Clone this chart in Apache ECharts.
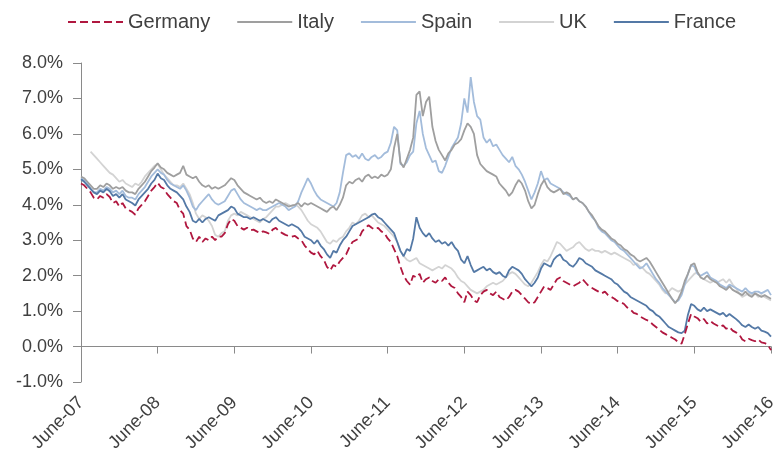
<!DOCTYPE html>
<html>
<head>
<meta charset="utf-8">
<script src="https://cdn.jsdelivr.net/npm/echarts/dist/echarts.min.js"></script>
<style>
  html, body { margin: 0; padding: 0; background: #ffffff; }
  #chart { width: 782px; height: 461px; }
</style>
</head>
<body>
<div id="chart"></div>
<script>
// 10-year government bond yields (%), twice-monthly readings, June 2007 - June 2016
const tickLabels = ['June-07', 'June-08', 'June-09', 'June-10', 'June-11',
                    'June-12', 'June-13', 'June-14', 'June-15', 'June-16'];

// one row per year, starting each June (24 half-month readings per row)
const germany = [
  4.60, 4.55, 4.45, 4.35, 4.20, 4.15, 4.25, 4.20, 4.30, 4.22, 4.05, 4.10, 3.95, 4.05, 3.90, 3.85, 3.80, 3.72, 3.90, 4.00, 4.10, 4.25, 4.40, 4.50,
  4.62, 4.50, 4.45, 4.30, 4.20, 4.10, 4.05, 3.85, 3.75, 3.40, 3.30, 3.05, 2.95, 3.10, 2.95, 3.05, 3.00, 3.10, 3.00, 3.10, 3.10, 3.20, 3.45, 3.60,
  3.55, 3.40, 3.35, 3.30, 3.35, 3.28, 3.30, 3.25, 3.20, 3.25, 3.22, 3.18, 3.30, 3.35, 3.25, 3.20, 3.15, 3.12, 3.10, 3.12, 3.05, 3.00, 2.85, 2.75,
  2.65, 2.60, 2.70, 2.55, 2.45, 2.25, 2.15, 2.30, 2.25, 2.40, 2.50, 2.60, 2.80, 2.95, 3.00, 3.05, 3.25, 3.35, 3.42, 3.35, 3.30, 3.35, 3.25, 3.20,
  3.05, 2.95, 2.75, 2.55, 2.25, 2.00, 1.85, 1.75, 2.00, 1.95, 2.05, 1.80, 1.90, 1.95, 1.85, 1.80, 1.90, 1.85, 1.95, 1.80, 1.70, 1.65, 1.50, 1.40,
  1.25, 1.55, 1.45, 1.30, 1.25, 1.45, 1.55, 1.60, 1.50, 1.45, 1.55, 1.40, 1.35, 1.30, 1.40, 1.55, 1.60, 1.55, 1.45, 1.35, 1.25, 1.20, 1.25, 1.40,
  1.55, 1.70, 1.65, 1.60, 1.75, 1.90, 1.95, 1.85, 1.80, 1.75, 1.70, 1.75, 1.80, 1.90, 1.80, 1.70, 1.65, 1.60, 1.55, 1.50, 1.55, 1.45, 1.40, 1.35,
  1.28, 1.25, 1.20, 1.10, 1.05, 0.95, 0.92, 0.85, 0.80, 0.75, 0.72, 0.62, 0.55, 0.48, 0.40, 0.35, 0.30, 0.25, 0.20, 0.12, 0.08, 0.35, 0.65, 0.92,
  0.85, 0.80, 0.70, 0.78, 0.65, 0.72, 0.65, 0.60, 0.55, 0.60, 0.50, 0.55, 0.45, 0.40, 0.35, 0.20, 0.15, 0.22, 0.18, 0.15, 0.20, 0.12, 0.10, 0.05,
  -0.10
];

const italy = [
  4.80, 4.75, 4.65, 4.55, 4.45, 4.45, 4.55, 4.50, 4.60, 4.55, 4.45, 4.50, 4.45, 4.50, 4.40, 4.35, 4.35, 4.30, 4.45, 4.55, 4.65, 4.80, 4.95, 5.05,
  5.17, 5.05, 5.00, 4.90, 4.85, 4.80, 4.85, 4.90, 5.10, 4.85, 4.80, 4.75, 4.80, 4.65, 4.55, 4.50, 4.55, 4.45, 4.50, 4.45, 4.50, 4.55, 4.65, 4.75,
  4.70, 4.55, 4.45, 4.35, 4.30, 4.25, 4.20, 4.15, 4.20, 4.10, 4.05, 4.10, 4.05, 4.15, 4.10, 4.05, 4.00, 3.95, 3.98, 4.00, 4.05, 3.95, 4.05, 4.00,
  4.05, 4.00, 3.95, 3.90, 3.85, 3.80, 3.90, 3.95, 3.85, 4.00, 4.20, 4.55, 4.65, 4.60, 4.70, 4.75, 4.65, 4.80, 4.85, 4.75, 4.80, 4.75, 4.85, 4.80,
  4.85, 5.00, 5.60, 6.00, 5.20, 5.05, 5.30, 5.55, 5.90, 7.10, 7.20, 6.50, 6.90, 7.05, 6.20, 5.80, 5.55, 5.40, 5.25, 5.45, 5.55, 5.70, 5.75, 5.85,
  6.10, 6.30, 6.20, 6.00, 5.40, 5.15, 5.05, 4.95, 4.90, 4.85, 4.80, 4.60, 4.50, 4.40, 4.25, 4.35, 4.55, 4.70, 4.60, 4.40, 4.10, 3.90, 4.00, 4.30,
  4.55, 4.70, 4.50, 4.40, 4.35, 4.40, 4.45, 4.30, 4.35, 4.30, 4.15, 4.20, 4.10, 4.05, 3.95, 3.80, 3.70, 3.55, 3.40, 3.30, 3.25, 3.15, 3.05, 3.00,
  2.90, 2.85, 2.75, 2.70, 2.60, 2.55, 2.45, 2.40, 2.45, 2.50, 2.40, 2.25, 2.10, 1.95, 1.80, 1.65, 1.50, 1.35, 1.22, 1.35, 1.55, 1.85, 2.05, 2.30,
  2.35, 2.10, 1.95, 1.90, 2.00, 1.90, 1.85, 1.80, 1.70, 1.65, 1.60, 1.70, 1.60, 1.55, 1.50, 1.45, 1.55, 1.45, 1.40, 1.50, 1.45, 1.40, 1.45, 1.40,
  1.35
];

const spain = [
  4.75, 4.70, 4.60, 4.45, 4.35, 4.35, 4.45, 4.40, 4.50, 4.45, 4.35, 4.40, 4.30, 4.40, 4.25, 4.20, 4.20, 4.15, 4.30, 4.40, 4.50, 4.65, 4.80, 4.90,
  5.00, 4.90, 4.85, 4.70, 4.60, 4.55, 4.50, 4.45, 4.55, 4.40, 4.20, 3.95, 3.85, 4.00, 4.10, 4.20, 4.30, 4.15, 4.05, 4.00, 4.05, 4.10, 4.25, 4.40,
  4.45, 4.30, 4.15, 4.05, 4.00, 3.95, 3.90, 3.85, 3.90, 3.85, 3.85, 3.90, 3.95, 4.00, 4.05, 4.00, 3.95, 3.85, 3.90, 3.95, 4.10, 4.35, 4.55, 4.75,
  4.60, 4.40, 4.25, 4.15, 4.10, 4.05, 4.00, 3.95, 4.05, 4.35, 4.90, 5.40, 5.45, 5.35, 5.40, 5.30, 5.45, 5.30, 5.25, 5.35, 5.40, 5.30, 5.35, 5.45,
  5.50, 5.75, 6.20, 6.10, 5.15, 5.10, 5.20, 5.40, 5.50, 6.30, 6.65, 6.00, 5.60, 5.40, 5.20, 5.25, 4.95, 4.90, 5.10, 5.35, 5.60, 5.75, 5.90, 6.30,
  7.00, 6.60, 7.60, 6.90, 6.50, 6.40, 5.90, 5.75, 5.85, 5.65, 5.70, 5.55, 5.40, 5.30, 5.20, 5.35, 5.10, 5.00, 4.85, 4.65, 4.40, 4.15, 4.35, 4.60,
  4.95, 4.70, 4.75, 4.60, 4.55, 4.50, 4.45, 4.35, 4.30, 4.25, 4.15, 4.20, 4.10, 4.05, 3.95, 3.80, 3.65, 3.55, 3.35, 3.25, 3.20, 3.10, 3.00, 2.95,
  2.85, 2.75, 2.70, 2.60, 2.50, 2.40, 2.30, 2.20, 2.25, 2.35, 2.20, 2.05, 1.90, 1.80, 1.65, 1.55, 1.45, 1.35, 1.25, 1.30, 1.45, 1.75, 2.05, 2.30,
  2.25, 2.05, 2.00, 2.05, 2.10, 1.95, 1.90, 1.85, 1.75, 1.70, 1.65, 1.75, 1.70, 1.65, 1.60, 1.55, 1.65, 1.55, 1.50, 1.55, 1.55, 1.50, 1.55, 1.60,
  1.45
];

const uk = [
  null, null, null, 5.50, 5.40, 5.30, 5.20, 5.10, 5.00, 4.90, 4.85, 4.75, 4.65, 4.70, 4.60, 4.55, 4.50, 4.60, 4.55, 4.65, 4.80, 4.90, 5.00, 5.10,
  5.15, 5.00, 4.85, 4.75, 4.65, 4.55, 4.55, 4.50, 4.60, 4.45, 4.30, 4.05, 3.75, 3.60, 3.70, 3.65, 3.55, 3.40, 3.15, 3.10, 3.20, 3.25, 3.55, 3.70,
  3.75, 3.70, 3.80, 3.75, 3.70, 3.65, 3.60, 3.55, 3.50, 3.60, 3.65, 3.75, 3.85, 3.95, 3.95, 4.00, 4.05, 4.00, 3.95, 4.00, 3.95, 3.85, 3.70, 3.55,
  3.45, 3.40, 3.35, 3.25, 3.10, 2.95, 2.90, 3.00, 2.95, 3.05, 3.10, 3.25, 3.35, 3.50, 3.45, 3.55, 3.70, 3.75, 3.65, 3.70, 3.60, 3.50, 3.45, 3.40,
  3.30, 3.20, 3.10, 2.95, 2.70, 2.55, 2.45, 2.40, 2.45, 2.50, 2.35, 2.30, 2.25, 2.20, 2.15, 2.20, 2.25, 2.20, 2.30, 2.25, 2.20, 2.10, 1.95, 1.85,
  1.80, 1.70, 1.60, 1.55, 1.50, 1.55, 1.60, 1.70, 1.75, 1.80, 1.75, 1.80, 1.85, 1.95, 2.05, 2.10, 2.05, 1.95, 1.85, 1.75, 1.70, 1.80, 1.95, 2.10,
  2.30, 2.45, 2.40, 2.55, 2.75, 2.95, 2.90, 2.80, 2.70, 2.75, 2.80, 2.90, 2.95, 2.85, 2.75, 2.70, 2.75, 2.70, 2.70, 2.65, 2.70, 2.65, 2.60, 2.65,
  2.60, 2.55, 2.50, 2.45, 2.40, 2.30, 2.35, 2.25, 2.20, 2.10, 2.05, 1.95, 1.85, 1.75, 1.60, 1.50, 1.55, 1.65, 1.60, 1.55, 1.60, 1.75, 1.85, 1.95,
  2.05, 2.10, 1.95, 1.90, 1.85, 1.80, 1.85, 1.80, 1.85, 1.90, 1.80, 1.90, 1.75, 1.65, 1.50, 1.40, 1.45, 1.50, 1.45, 1.50, 1.40, 1.45, 1.40, 1.35,
  1.30
];

const france = [
  4.72, 4.65, 4.55, 4.45, 4.35, 4.30, 4.40, 4.35, 4.45, 4.38, 4.25, 4.30, 4.20, 4.30, 4.15, 4.10, 4.05, 3.98, 4.15, 4.25, 4.35, 4.45, 4.60, 4.70,
  4.88, 4.75, 4.70, 4.55, 4.45, 4.40, 4.35, 4.25, 4.15, 3.95, 3.80, 3.55, 3.50, 3.60, 3.50, 3.60, 3.65, 3.60, 3.55, 3.70, 3.75, 3.80, 3.85, 3.95,
  3.90, 3.75, 3.70, 3.65, 3.65, 3.60, 3.65, 3.60, 3.55, 3.60, 3.55, 3.50, 3.60, 3.65, 3.55, 3.50, 3.45, 3.40, 3.45, 3.40, 3.35, 3.25, 3.10, 3.05,
  3.00, 2.90, 3.00, 2.85, 2.75, 2.60, 2.50, 2.70, 2.65, 2.85, 3.00, 3.10, 3.25, 3.40, 3.45, 3.50, 3.55, 3.60, 3.65, 3.72, 3.75, 3.65, 3.60, 3.50,
  3.40, 3.30, 3.20, 2.95, 2.70, 2.55, 2.75, 2.70, 3.05, 3.65, 3.35, 3.20, 3.10, 3.20, 3.05, 2.95, 3.00, 2.90, 2.95, 2.85, 2.95, 2.80, 2.70, 2.45,
  2.35, 2.55, 2.30, 2.10, 2.15, 2.20, 2.25, 2.15, 2.20, 2.10, 2.05, 2.10, 2.00, 1.95, 2.15, 2.25, 2.20, 2.15, 2.05, 1.90, 1.80, 1.70, 1.80, 1.95,
  2.20, 2.35, 2.30, 2.25, 2.45, 2.55, 2.60, 2.45, 2.40, 2.30, 2.25, 2.35, 2.50, 2.45, 2.35, 2.30, 2.25, 2.15, 2.10, 2.05, 2.00, 1.95, 1.90, 1.80,
  1.75, 1.65, 1.55, 1.50, 1.40, 1.35, 1.30, 1.25, 1.20, 1.15, 1.05, 1.00, 0.90, 0.85, 0.75, 0.65, 0.55, 0.50, 0.45, 0.40, 0.38, 0.45, 0.90, 1.20,
  1.15, 1.05, 1.00, 1.10, 1.00, 1.05, 1.00, 0.95, 0.90, 0.95, 0.85, 0.92, 0.85, 0.78, 0.70, 0.60, 0.55, 0.62, 0.55, 0.50, 0.55, 0.45, 0.42, 0.38,
  0.28
];

// months elapsed since June 2007, one reading every half month
const months = germany.map((_, i) => i / 2);

const FONT = '"Liberation Sans", Arial, sans-serif';
const AXIS_GREY = '#8a8a8a';
const TEXT = '#404040';

function lineSeries(name, values, color, dash) {
  return {
    name: name,
    type: 'line',
    data: months.map((m, i) => [m, values[i]]),
    symbol: 'none',
    showSymbol: false,
    connectNulls: false,
    lineStyle: { color: color, width: 1.8, type: dash || 'solid' },
    itemStyle: { color: color },
    emphasis: { disabled: true }
  };
}

const chart = echarts.init(document.getElementById('chart'), null, { renderer: 'canvas' });

chart.setOption({
  animation: false,
  backgroundColor: '#ffffff',
  textStyle: { fontFamily: FONT },
  legend: {
    data: ['Germany', 'Italy', 'Spain', 'UK', 'France'],
    left: 62,
    top: 7,
    itemWidth: 55,
    itemHeight: 14,
    itemGap: 26,
    // plain line keys, no marker dot
    itemStyle: { opacity: 0 },
    textStyle: { fontSize: 20, color: TEXT, fontFamily: FONT }
  },
  grid: { left: 81, right: 11, top: 63, bottom: 79 },
  xAxis: [
    {
      // axis line drawn through 0%
      type: 'value',
      min: 0,
      max: 108,
      interval: 12,
      axisLine: { show: true, onZero: true, lineStyle: { color: AXIS_GREY, width: 1 } },
      axisTick: { show: true, length: 7, lineStyle: { color: AXIS_GREY } },
      axisLabel: { show: false },
      splitLine: { show: false }
    },
    {
      // date labels along the bottom
      type: 'value',
      position: 'bottom',
      min: 0,
      max: 108,
      interval: 12,
      axisLine: { show: false, onZero: false },
      axisTick: { show: false },
      splitLine: { show: false },
      axisLabel: {
        show: true,
        rotate: 45,
        margin: 18,
        fontSize: 18,
        color: TEXT,
        fontFamily: FONT,
        showMinLabel: true,
        showMaxLabel: true,
        formatter: v => tickLabels[Math.round(v / 12)]
      }
    }
  ],
  yAxis: {
    type: 'value',
    min: -1,
    max: 8,
    interval: 1,
    axisLine: { show: true, onZero: false, lineStyle: { color: AXIS_GREY, width: 1 } },
    axisTick: { show: true, length: 8, lineStyle: { color: AXIS_GREY } },
    splitLine: { show: false },
    axisLabel: {
      fontSize: 18,
      color: TEXT,
      fontFamily: FONT,
      margin: 18,
      formatter: v => v.toFixed(1) + '%'
    }
  },
  series: [
    lineSeries('UK', uk, '#d3d3d3'),
    lineSeries('Spain', spain, '#a3bcdb'),
    lineSeries('Italy', italy, '#9f9f9f'),
    lineSeries('France', france, '#5479a6'),
    lineSeries('Germany', germany, '#b0173f', [8, 4])
  ]
});
</script>
</body>
</html>
